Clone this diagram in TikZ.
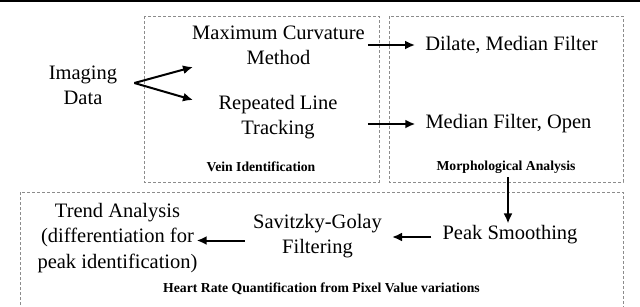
\documentclass[tikz,border=0pt]{standalone}
\usepackage{fontspec}
\setmainfont{LiberationSerif}[Extension=.ttf, UprightFont=*-Regular, BoldFont=*-Bold]
\usetikzlibrary{arrows.meta,calc}
\begin{document}
\begin{tikzpicture}[x=1pt,y=-1pt,
  txt/.style={font=\rmfamily\fontsize{20.5}{25}\selectfont, align=center, inner sep=0pt},
  lbl/.style={font=\rmfamily\fontsize{13.7}{16}\selectfont\bfseries, inner sep=0pt},
  grp/.style={draw=black!45, dash pattern=on 3pt off 2pt, line width=0.6pt},
  arr/.style={-{Latex[length=10pt,width=9pt]}, line width=2pt}]
\useasboundingbox (0,0) rectangle (640,306);
\clip (0,0) rectangle (640,306);
\fill (0,0) rectangle (640,1.8);
% group frames
\draw[grp] (144,16) rectangle (379,182);
\draw[grp] (389,16) rectangle (623,182);
\draw[grp] (20,320) -- (20,192) -- (623,192) -- (623,320);
% nodes
\node[txt] (img) at (83,85) {Imaging\\Data};
\node[txt] (mc) at (278.5,45.5) {Maximum Curvature\\Method};
\node[txt] (rlt) at (278,117.5) {Repeated Line\\Tracking};
\node[txt] (dm) at (511.5,45) {Dilate, Median Filter};
\node[txt] (mo) at (508.5,124) {Median Filter, Open};
\node[txt] (ps) at (510,235) {Peak Smoothing};
\node[txt] (sg) at (317.5,236.5) {Savitzky-Golay\\Filtering};
\node[txt, font=\rmfamily\fontsize{20.5}{25.5}\selectfont] (ta) at (117.5,238) {Trend Analysis\\(differentiation for\\peak identification)};
\node[lbl] (vein) at (261,167) {Vein Identification};
\node[lbl] (morph) at (506,167) {Morphological Analysis};
\node[lbl] (hr) at (321.5,289) {Heart Rate Quantification from Pixel Value variations};
% connectors
\coordinate (split) at ($(img.east)+(17,-2)$);
\coordinate (t1) at (193,67);
\coordinate (t2) at (193,100);
\draw[arr] (split) -- (t1);
\draw[arr] (split) -- (t2);
\draw[arr] ($(mc.east |- dm.west)+(3,0)$) -- ($(dm.west)+(-10,0)$);
\draw[arr] ($(mc.east |- mo.west)+(3,0)$) -- ($(mo.west)+(-10,0)$);
\draw[arr] ($(morph.south -| 508,0)+(0,4)$) -- ($(ps.north -| 508,0)+(0,-2)$);
\draw[arr] ($(ps.west)+(-11,2)$) -- ($(sg.east |- ps.west)+(10,2)$);
\draw[arr] ($(sg.west)+(-8,4)$) -- ($(ta.east |- sg.west)+(-1,4)$);
\end{tikzpicture}
\end{document}
